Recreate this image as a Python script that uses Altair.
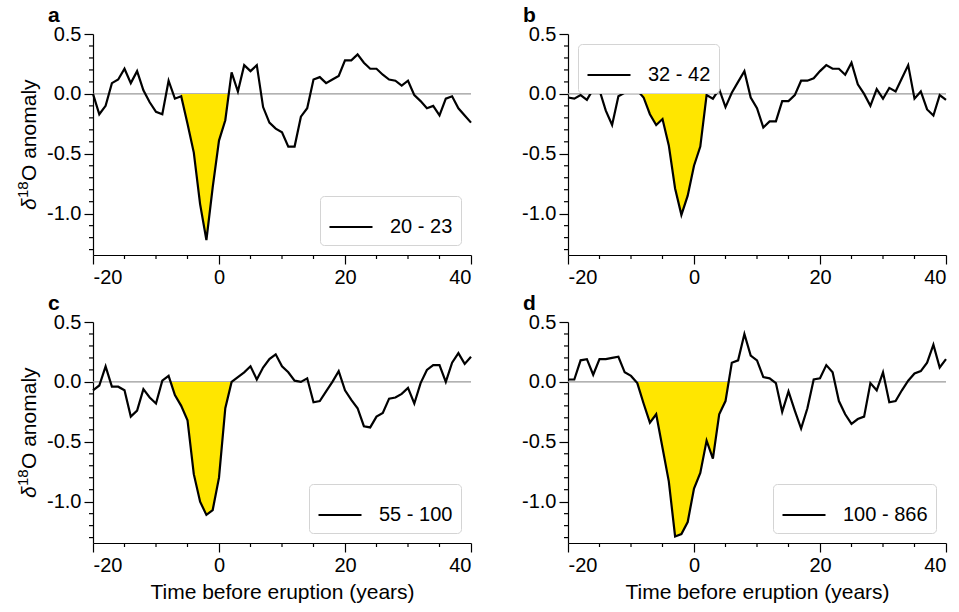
import altair as alt
import pandas as pd

years = list(range(-20, 41))

series_a = [0.0, -0.17, -0.10, 0.09, 0.12, 0.21, 0.09, 0.19, 0.03, -0.07,
            -0.15, -0.17, 0.11, -0.04, -0.02, -0.25, -0.49, -0.92, -1.22, -0.78,
            -0.39, -0.22, 0.18, 0.02, 0.24, 0.19, 0.24, -0.11, -0.24, -0.29,
            -0.32, -0.44, -0.44, -0.19, -0.12, 0.12, 0.14, 0.09, 0.12, 0.15,
            0.28, 0.28, 0.33, 0.26, 0.21, 0.21, 0.16, 0.12, 0.11, 0.07,
            0.11, -0.01, -0.06, -0.12, -0.10, -0.18, -0.04, -0.02, -0.12, -0.18, -0.24]
series_b = [-0.03, -0.04, -0.01, -0.05, 0.04, 0.03, -0.14, -0.26, -0.02, 0.01,
            0.10, 0.03, -0.03, -0.17, -0.26, -0.21, -0.43, -0.79, -1.01, -0.85,
            -0.60, -0.44, -0.01, -0.04, 0.04, -0.11, 0.01, 0.10, 0.19, -0.03,
            -0.12, -0.28, -0.23, -0.23, -0.06, -0.06, -0.01, 0.11, 0.11, 0.13,
            0.19, 0.24, 0.21, 0.21, 0.16, 0.26, 0.08, 0.0, -0.10, 0.04,
            -0.04, 0.05, 0.02, 0.13, 0.24, -0.04, 0.02, -0.13, -0.18, -0.01, -0.05]
series_c = [-0.07, -0.03, 0.13, -0.04, -0.04, -0.07, -0.29, -0.24, -0.06, -0.13,
            -0.18, 0.01, 0.05, -0.11, -0.20, -0.32, -0.77, -1.0, -1.11, -1.07,
            -0.80, -0.22, 0.0, 0.04, 0.08, 0.13, 0.02, 0.12, 0.19, 0.23,
            0.13, 0.08, 0.01, 0.0, 0.03, -0.17, -0.16, -0.08, 0.0, 0.09,
            -0.07, -0.15, -0.22, -0.37, -0.38, -0.29, -0.26, -0.14, -0.13, -0.10,
            -0.05, -0.18, -0.01, 0.10, 0.14, 0.14, 0.0, 0.16, 0.24, 0.15, 0.21]
series_d = [0.02, 0.02, 0.18, 0.19, 0.06, 0.19, 0.19, 0.20, 0.21, 0.08,
            0.05, -0.01, -0.18, -0.34, -0.27, -0.55, -0.83, -1.29, -1.27, -1.17,
            -0.89, -0.76, -0.49, -0.64, -0.27, -0.16, 0.16, 0.18, 0.40, 0.22,
            0.18, 0.04, 0.03, -0.01, -0.25, -0.08, -0.24, -0.39, -0.22, 0.02,
            0.03, 0.14, 0.08, -0.16, -0.27, -0.35, -0.31, -0.29, -0.01, -0.07,
            0.08, -0.17, -0.16, -0.07, 0.01, 0.07, 0.09, 0.16, 0.31, 0.12, 0.19]

all_series = [series_a, series_b, series_c, series_d]
labels = ["20 - 23", "32 - 42", "55 - 100", "100 - 866"]
letters = ["a", "b", "c", "d"]
fill_windows = [(-6, 2), (-9, 2), (-8, 2), (-10, 6)]
legend_orients = ["bottom-right", "top-left", "bottom-right", "bottom-right"]
y_title_parts = ["δ", "18", "O anomaly"]
x_title = "Time before eruption (years)"

x_major = [-20, 0, 20, 40]
x_minor = [-15, -10, -5, 5, 10, 15, 25, 30, 35]
y_major = [-1.0, -0.5, 0.0, 0.5]
y_minor = [-1.3, -1.2, -1.1, -0.9, -0.8, -0.7, -0.6, -0.4, -0.3, -0.2, -0.1,
           0.1, 0.2, 0.3, 0.4]

W, H = 378, 221
FONT = "Liberation Sans"
YEL = "#FFE600"


def fill_frame(xs, vs, t0, t1):
    pts = [(x, v) for x, v in zip(xs, vs) if t0 <= x <= t1]
    rows = []
    for i, (x, v) in enumerate(pts):
        if i > 0:
            xp, vp = pts[i - 1]
            if vp != 0 and v != 0 and ((vp < 0) != (v < 0)):
                xc = xp + (0 - vp) * (x - xp) / (v - vp)
                rows.append((xc, 0.0))
        rows.append((x, min(v, 0.0)))
    return pd.DataFrame({"t": [r[0] for r in rows], "v": [r[1] for r in rows],
                         "z": [0.0] * len(rows)})


def ytitle_layers():
    # rotated title built from three pieces: italic delta, superscript 18, rest
    base_x = -57
    specs = [
        (y_title_parts[0], dict(fontSize=21, fontStyle="italic"), base_x, 176),
        (y_title_parts[1], dict(fontSize=15), base_x - 8, 164),
        (y_title_parts[2], dict(fontSize=21), base_x, 147),
    ]
    out = []
    for txt, style, xv, yv in specs:
        out.append(alt.Chart(pd.DataFrame({"s": [txt]})).mark_text(
            angle=270, align="left", baseline="alphabetic", color="black",
            font=FONT, **style).encode(
            x=alt.value(xv), y=alt.value(yv), text="s:N"))
    return out


def panel(i):
    xs = alt.Scale(domain=[-20, 40], nice=False, zero=False)
    ys = alt.Scale(domain=[-1.345, 0.5], nice=False, zero=False)
    df = pd.DataFrame({"t": years, "v": all_series[i], "lab": labels[i]})
    fdf = fill_frame(years, all_series[i], *fill_windows[i])

    xaxis = alt.Axis(values=x_major,
                     labelExpr="datum.value < 0 ? '-' + format(-datum.value, 'd') : format(datum.value, 'd')",
                     title=x_title if i >= 2 else None)
    yaxis = alt.Axis(values=y_major,
                     labelExpr="datum.value < 0 ? '-' + format(-datum.value, '.1f') : format(datum.value, '.1f')",
                     title=None)

    line = alt.Chart(df).mark_line(strokeWidth=2.2).encode(
        x=alt.X("t:Q", scale=xs, axis=xaxis),
        y=alt.Y("v:Q", scale=ys, axis=yaxis),
        stroke=alt.Stroke("lab:N", scale=alt.Scale(domain=[labels[i]], range=["black"]),
                          legend=alt.Legend(orient=legend_orients[i], title=None,
                                            symbolType="stroke", symbolSize=1850,
                                            symbolStrokeWidth=2.2, labelFontSize=20,
                                            labelFont=FONT, labelColor="black",
                                            labelOffset=16, padding=8, offset=10,
                                            fillColor="white", strokeColor="#d4d4d4",
                                            cornerRadius=4)))

    zero = alt.Chart(pd.DataFrame({"v": [0.0]})).mark_rule(
        color="#999999", strokeWidth=1.2).encode(
        y=alt.Y("v:Q", scale=ys, axis=yaxis))

    area = alt.Chart(fdf).mark_area(color=YEL, opacity=1).encode(
        x=alt.X("t:Q", scale=xs, axis=xaxis),
        y=alt.Y("v:Q", scale=ys, axis=yaxis),
        y2=alt.Y2("z:Q"))

    ymin = alt.Chart(pd.DataFrame({"v": y_minor})).mark_rule(
        color="black", strokeWidth=1.2).encode(
        y=alt.Y("v:Q", scale=ys, axis=yaxis), x=alt.value(-4), x2=alt.value(0))
    xmin = alt.Chart(pd.DataFrame({"t": x_minor})).mark_rule(
        color="black", strokeWidth=1.2).encode(
        x=alt.X("t:Q", scale=xs, axis=xaxis), y=alt.value(H), y2=alt.value(H + 4))

    letter = alt.Chart(pd.DataFrame({"s": [letters[i]]})).mark_text(
        align="left", baseline="alphabetic", fontSize=21, fontWeight="bold",
        color="black", font=FONT).encode(
        x=alt.value(-45), y=alt.value(-12), text="s:N")

    layers = [zero, area, line, ymin, xmin, letter]
    if i % 2 == 0:
        layers += ytitle_layers()
    return alt.layer(*layers).properties(width=W, height=H)


p = [panel(i) for i in range(4)]
chart = alt.concat(*p, columns=2, spacing={"row": 67, "column": 97}, bounds="flush").resolve_scale(
    stroke="independent").resolve_legend(stroke="independent").properties(
    padding={"left": 16, "top": 5, "right": 5, "bottom": 5}
).configure(font=FONT).configure_view(stroke=None).configure_axis(
    domainColor="black", domainWidth=1.2, tickColor="black", tickWidth=1.2,
    tickSize=9, labelFontSize=20, labelColor="black", labelFont=FONT,
    titleFontSize=21, titleFontWeight="normal", titleColor="black", titleFont=FONT,
    grid=False, labelPadding=3, titlePadding=6)

chart.save("out.html", embed_options={"renderer": "svg", "actions": False})
